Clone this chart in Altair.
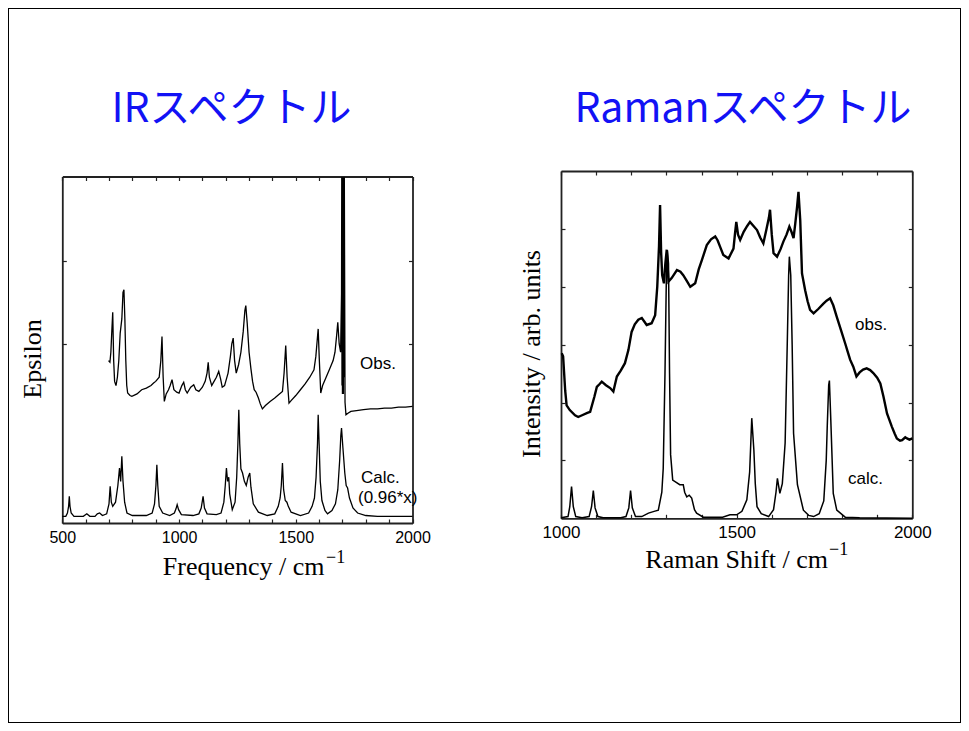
import altair as alt
import pandas as pd

W, H = 953, 715

# ---------------- data ----------------
# IR calculated spectrum (scaled 0.96*x)
ir_calc_x = [500, 515, 522, 527, 530, 533, 538, 550, 590, 605, 618, 640, 650, 660, 672, 690, 700, 705, 710, 716,
             728, 738, 745, 750, 755, 760, 767, 777, 800, 860, 885, 895, 901, 905, 909, 915, 930, 960, 980, 987,
             992, 998, 1010, 1060, 1085, 1095, 1103, 1109, 1120, 1160, 1180, 1192, 1198, 1203, 1208, 1213, 1217,
             1228, 1240, 1247, 1252, 1256, 1260, 1265, 1272, 1280, 1288, 1296, 1303, 1308, 1318, 1340, 1378, 1410,
             1425, 1433, 1438, 1443, 1448, 1455, 1462, 1468, 1480, 1520, 1555, 1570, 1580, 1587, 1593, 1596, 1600,
             1605, 1612, 1625, 1636, 1655, 1670, 1680, 1688, 1693, 1696, 1702, 1710, 1716, 1722, 1730, 1745, 1765,
             1800, 1850, 2000]
ir_calc_y = [-7, -7, -3, 5, 17, 5, -3, -7, -7, -4, -7, -7, -4, -3, -6, -4, 8, 29, 10, 5,
             10, 30, 51, 35, 65, 35, 10, -3, -6, -6, -3, 8, 30, 55, 30, 5, -3, -6, -3, 2,
             7, 1, -5, -6, -4, 3, 17, 3, -4, -5, -3, 10, 30, 51, 35, 40, 20,
             1, 10, 40, 80, 121, 80, 50, 45, 35, 30, 40, 45, 28, 8, -2, -6, -4,
             5, 15, 30, 57, 25, 12, 10, 5, -2, -6, -3, 5, 15, 40, 80, 115, 80,
             35, 12, 0, -4, 0, 8, 25, 60, 90, 99, 75, 45, 30, 27, 15, 3, -3,
             -6, -7, -7]

# IR observed spectrum
ir_obs_x = [698, 704, 708, 712, 716, 720, 724, 730, 736, 742, 748, 755, 760, 764, 768, 772, 776, 780, 790, 798,
            820, 840, 860, 880, 891, 900, 915, 922, 927, 932, 937, 945, 955, 962, 970, 978, 990, 1000, 1012, 1020,
            1027, 1035, 1050, 1063, 1072, 1085, 1100, 1112, 1120, 1125, 1130, 1140, 1150, 1160, 1170, 1178, 1185,
            1195, 1210, 1220, 1226, 1232, 1238, 1245, 1255, 1265, 1275, 1282, 1286, 1292, 1300, 1308, 1315, 1322,
            1330, 1340, 1348, 1357, 1370, 1390, 1410, 1430, 1443, 1450, 1457, 1463, 1471, 1480, 1500, 1520, 1540,
            1560, 1578, 1586, 1592, 1596, 1601, 1607, 1615, 1630, 1645, 1660, 1668, 1675, 1680, 1686, 1692, 1696,
            1697, 1698, 1699, 1700, 1701, 1702, 1703, 1704, 1705, 1706, 1708, 1711, 1715, 1725, 1736, 1760, 1790,
            1820, 1850, 1880, 1910, 1940, 1970, 2000]
ir_obs_y = [180, 178, 190, 215, 238, 180, 155, 150, 160, 180, 213, 230, 262, 265, 230, 180, 150, 141, 138, 137,
            140, 145, 147, 150, 153, 155, 160, 180, 209, 160, 131, 140, 145, 150, 157, 145, 142, 141, 150, 154,
            145, 141, 148, 151, 145, 143, 148, 155, 165, 178, 160, 150, 155, 160, 167, 158, 148,
            150, 165, 185, 200, 207, 180, 165, 175, 190, 215, 240, 246, 225, 190, 170, 155, 145,
            142, 135, 128, 122, 126, 131, 135, 140, 143, 165, 198, 160, 129, 132, 138, 145, 152,
            160, 169, 185, 205, 218, 180, 141, 150, 160, 170, 180, 190, 210, 226, 200, 190, 260,
            400, 150, 400, 140, 400, 150, 400, 140, 400, 160, 400, 130, 115, 117, 119, 120, 121,
            122, 122, 123, 123, 124, 124, 125]

# Raman calculated spectrum
ra_calc_x = [1000, 1020, 1025, 1030, 1035, 1042, 1060, 1080, 1087, 1092, 1097, 1105, 1120, 1170, 1185, 1193, 1198,
             1203, 1212, 1230, 1249, 1265, 1277, 1287, 1291, 1296, 1300, 1303, 1306, 1309, 1312, 1318, 1328, 1338,
             1348, 1352, 1358, 1365, 1372, 1380, 1386, 1405, 1460, 1481, 1500, 1515, 1529, 1537, 1543, 1549, 1553,
             1558, 1570, 1591, 1605, 1612, 1616, 1623, 1630, 1638, 1644, 1648, 1650, 1654, 1658, 1662, 1673, 1690,
             1705, 1719, 1735, 1748, 1755, 1758, 1762, 1764, 1768, 1775, 1785, 1809, 1850, 2000]
ra_calc_y = [1, 3, 20, 55, 20, 3, 1, 3, 20, 48, 18, 3, 1, 1, 3, 18, 48,
             18, 3, 3, 9, 12, 14, 45, 86, 250, 420, 463, 440, 250, 110, 66, 62, 58,
             58, 45, 37, 40, 35, 15, 9, 2, 2, 6, 6, 12, 32, 80, 173, 118, 60,
             20, 8, 3, 15, 45, 69, 43, 60, 130, 300, 420, 452, 420, 300, 147, 58, 14,
             5, 3, 8, 30, 100, 161, 230, 238, 170, 43, 14, 2, 1, 0]

# Raman observed spectrum
ra_obs_x = [1002, 1006, 1012, 1016, 1025, 1040, 1049, 1060, 1075, 1083, 1095, 1102, 1110, 1116, 1128, 1140, 1149,
            1159, 1170, 1182, 1192, 1201, 1210, 1220, 1230, 1237, 1244, 1258, 1268, 1274, 1279, 1282, 1285, 1288,
            1293, 1297, 1301, 1304, 1306, 1315, 1330, 1340, 1348, 1358, 1368, 1382, 1392, 1401, 1415, 1427, 1439,
            1446, 1453, 1462, 1477, 1491, 1495, 1499, 1504, 1510, 1520, 1530, 1538, 1548, 1558, 1567, 1576, 1585,
            1592, 1595, 1600, 1605, 1615, 1625, 1633, 1642, 1650, 1656, 1662, 1667, 1672, 1676, 1681, 1686, 1695,
            1702, 1709, 1719, 1733, 1747, 1756, 1766, 1775, 1785, 1797, 1809, 1816, 1823, 1832, 1841, 1850, 1860,
            1870, 1880, 1889, 1900, 1909, 1918, 1928, 1942, 1950, 1956, 1965, 1971, 1980, 1985, 1992, 2000]
ra_obs_y = [285, 280, 220, 195, 187, 178, 175, 178, 182, 184, 210, 227, 232, 236, 230, 225, 219,
            245, 255, 268, 291, 322, 335, 343, 346, 340, 334, 337, 351, 400, 470, 541, 460, 420,
            406, 440, 464, 430, 409, 415, 429, 426, 420, 410, 400, 406, 430, 446, 472, 482, 487,
            480, 469, 455, 449, 466, 490, 512, 490, 481, 495, 505, 512, 505, 498, 485, 475, 500,
            520, 533, 490, 458, 452, 465, 478, 490, 504, 495, 484, 510, 538, 564, 515, 423, 394,
            375, 360, 354, 362, 371, 376, 380, 368, 348, 325, 302, 288, 274, 262, 245, 252, 257,
            259, 256, 251, 243, 233, 210, 181, 158, 146, 138, 134, 135, 140, 138, 136, 138]

ir_minor_ticks = list(range(500, 2001, 100))
ir_tick_labels = [500, 1000, 1500, 2000]
ir_y_ticks = [200, 300]
ra_minor_ticks = list(range(1000, 2001, 100))
ra_tick_labels = [1000, 1500, 2000]
ra_y_ticks = [100, 200, 300, 400, 500]

ir_calc = pd.DataFrame({"x": ir_calc_x, "y": ir_calc_y})
ir_obs = pd.DataFrame({"x": ir_obs_x, "y": ir_obs_y})
ra_calc = pd.DataFrame({"x": ra_calc_x, "y": ra_calc_y})
ra_obs = pd.DataFrame({"x": ra_obs_x, "y": ra_obs_y})

# ---------------- layout ----------------
LEFT = dict(x0=54.3, x1=404.5, y0=515.0, y1=168.5, xdom=[500, 2000], ydom=[-15, 401])
RIGHT = dict(x0=553.0, x1=904.3, y0=510.3, y1=163.0, xdom=[1000, 2000], ydom=[0, 600])

FRAME = "#222222"


def panel(g, calc_df, obs_df, ticks, labels, yticks, lab_size, calc_w, obs_w):
    xs = alt.Scale(domain=g["xdom"], range=[g["x0"], g["x1"]], nice=False, zero=False)
    ys = alt.Scale(domain=g["ydom"], range=[g["y0"], g["y1"]], nice=False, zero=False)
    common = dict(grid=False, title=None, domainColor=FRAME, domainWidth=1.8,
                  tickColor=FRAME, tickWidth=1.2)
    ax_bottom = alt.Axis(orient="bottom", offset=g["y0"] - H, values=labels, ticks=False,
                         labelFont="Liberation Sans", labelFontSize=lab_size, labelColor="black",
                         labelPadding=6, labelFlush=False, labelAlign="center", format="d",
                         labelOverlap=False, **common)
    ax_left = alt.Axis(orient="left", offset=-g["x0"], ticks=False, labels=False, **common)
    ax_bottom_in = alt.Axis(orient="top", offset=-g["y0"], values=ticks, tickSize=4,
                            labels=False, domain=False, **common)
    ax_left_in = alt.Axis(orient="right", offset=g["x0"] - W, values=yticks, tickSize=4,
                          labels=False, domain=False, **common)
    ax_top_in = alt.Axis(orient="bottom", offset=g["y1"] - H, values=ticks, tickSize=4,
                         labels=False, **common)
    ax_right_in = alt.Axis(orient="left", offset=-g["x1"], values=yticks, tickSize=4,
                           labels=False, **common)

    calc = alt.Chart(calc_df).mark_line(color="black", strokeWidth=calc_w, clip=True).encode(
        x=alt.X("x:Q", scale=xs, axis=ax_bottom),
        y=alt.Y("y:Q", scale=ys, axis=ax_left),
        order="x:Q",
    )
    obs = alt.Chart(obs_df).mark_line(color="black", strokeWidth=obs_w, clip=True).encode(
        x=alt.X("x:Q", scale=xs, axis=ax_bottom_in),
        y=alt.Y("y:Q", scale=ys, axis=ax_left_in),
        order="x:Q",
    )
    frame = alt.Chart(calc_df).mark_point(opacity=0).encode(
        x=alt.X("x:Q", scale=xs, axis=ax_top_in),
        y=alt.Y("y:Q", scale=ys, axis=ax_right_in),
    )
    return alt.layer(calc, obs, frame).resolve_axis(x="independent", y="independent")


def text(t, x, y, size, font, color="black", align="center", angle=None, baseline="middle"):
    kw = dict(text=t, fontSize=size, font=font, color=color, align=align, baseline=baseline)
    if angle is not None:
        kw["angle"] = angle
    return alt.Chart(pd.DataFrame({"t": [t]})).mark_text(**kw).encode(
        x=alt.value(x), y=alt.value(y)
    )


left = panel(LEFT, ir_calc, ir_obs, ir_minor_ticks, ir_tick_labels, ir_y_ticks, 16, 1.3, 1.3)
right = panel(RIGHT, ra_calc, ra_obs, ra_minor_ticks, ra_tick_labels, ra_y_ticks, 17, 1.5, 2.4)

BLUE = "#1212F5"
CJK = "Noto Sans CJK JP"
SERIF = "Liberation Serif"
SANS = "Liberation Sans"

texts = [
    text("IRスペクトル", 223.5, 102, 41, CJK, color=BLUE),
    text("Ramanスペクトル", 735, 102, 41, CJK, color=BLUE),
    text("Frequency / cm", 316.5, 559, 26, SERIF, align="right"),
    text("−1", 318, 550, 18, SERIF, align="left"),
    text("Raman Shift / cm", 820, 552, 26, SERIF, align="right"),
    text("−1", 821, 542, 18, SERIF, align="left"),
    text("Epsilon", 24.5, 351, 26, SERIF, angle=270),
    text("Intensity / arb. units", 523.5, 346, 26, SERIF, angle=270),
    text("Obs.", 352, 356, 17, SANS, align="left"),
    text("Calc.", 353, 470, 17, SANS, align="left"),
    text("(0.96*x)", 350, 490, 17, SANS, align="left"),
    text("obs.", 847, 317, 17, SANS, align="left"),
    text("calc.", 840, 471, 17, SANS, align="left"),
]

chart = (
    alt.layer(left, right, *texts)
    .resolve_scale(x="independent", y="independent")
    .resolve_axis(x="independent", y="independent")
    .properties(width=W, height=H, autosize=alt.AutoSizeParams(type="none"), padding=0)
    .configure_view(stroke="black", strokeWidth=2)
    .configure_axis(grid=False)
)

chart.save("out.html", embed_options={"renderer": "svg", "actions": False})
